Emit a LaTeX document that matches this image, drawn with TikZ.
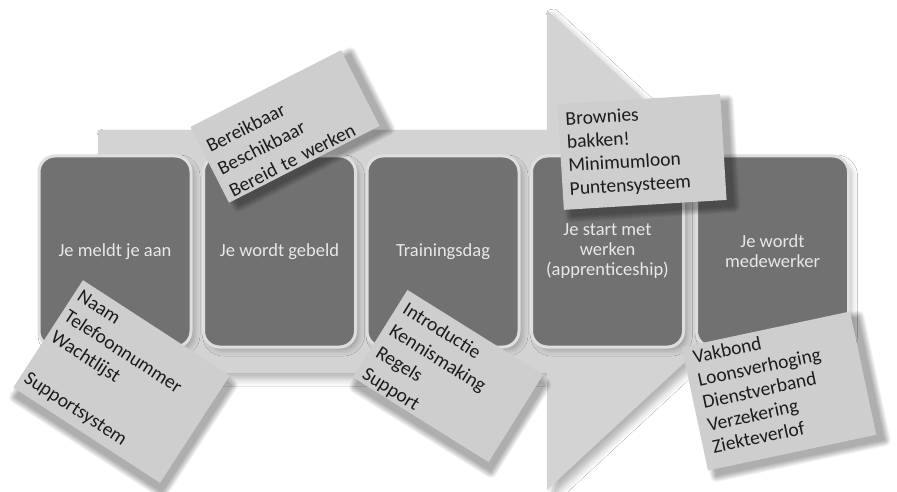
\documentclass[tikz,border=0pt]{standalone}
\usepackage{fontspec}
\setmainfont{Carlito}
\usetikzlibrary{shadows.blur}
\definecolor{arrowfill}{HTML}{D3D3D3}
\definecolor{notefill}{HTML}{CECECE}
\definecolor{boxfill}{HTML}{717171}
\definecolor{boxline}{HTML}{DEDEDE}
\definecolor{boxtext}{HTML}{E8E8E8}
\definecolor{notetextcol}{HTML}{1C1C1C}
\newcommand{\mysoftshadow}[2]{%
  \foreach \k in {0,...,6}{%
    \fill[black, opacity=0.05, rounded corners=\k pt]
      ({-#1+7-\k},{-#2+7-\k}) rectangle ({#1+7+\k},{#2+7+\k});}}
\begin{document}
\begin{tikzpicture}[x=1pt,y=-1pt,
  stagebox/.style={rectangle, rounded corners=16pt, fill=boxfill, draw=boxline, line width=3pt,
    minimum width=152pt, minimum height=191pt, inner sep=4pt, text=boxtext, align=center,
    font=\fontsize{18.5}{20}\selectfont,
    blur shadow={shadow xshift=4pt, shadow yshift=-4pt, shadow blur radius=5pt, shadow opacity=22}},
  notebox/.style={rectangle, fill=notefill, inner sep=0pt, draw=none},
  notetext/.style={anchor=west, inner sep=0pt, align=left, text=notetextcol}
]
\useasboundingbox (0,0) rectangle (897,492);
\fill[white] (0,0) rectangle (897,492);
% big arrow
\fill[arrowfill, blur shadow={shadow xshift=6pt, shadow yshift=-6pt, shadow blur radius=7pt, shadow opacity=30}]
  (98,130) -- (547,130) -- (547,10) -- (806,250) -- (547,490) -- (547,373) -- (98,373) -- cycle;
% stages
\node[stagebox] (s1) at (115,251.5) {Je meldt je aan};
\node[stagebox] (s2) at (279.5,251.5) {Je wordt gebeld};
\node[stagebox] (s3) at (443,251.5) {Trainingsdag};
\node[stagebox] (s4) at (607.5,251.5) {Je start met\\werken\\(apprenticeship)};
\node[stagebox] (s5) at (772.5,251.5) {Je wordt\\medewerker};
% notes
\begin{scope}[shift={(285,126.5)}, rotate=27, transform shape]
  \mysoftshadow{84.5}{42.5}
  \node[notebox, minimum width=169pt, minimum height=85pt] (nA) at (0,0) {};
  \node[notetext, text width=155pt, font=\fontsize{19.5}{25}\selectfont] (nAt) at (-78.5,8) {Bereikbaar\\Beschikbaar\\Bereid te werken};
\end{scope}
\begin{scope}[shift={(121.5,381.5)}, rotate=-33, transform shape]
  \mysoftshadow{87.5}{64}
  \node[notebox, minimum width=175pt, minimum height=128pt] (nB) at (0,0) {};
  \node[notetext, text width=165pt, font=\fontsize{19.5}{24.5}\selectfont] (nBt) at (-83,0) {Naam\\Telefoonnummer\\Wachtlijst\\[24.5pt]Supportsystem};
\end{scope}
\begin{scope}[shift={(448,376)}, rotate=-32, transform shape]
  \mysoftshadow{80}{51.5}
  \node[notebox, minimum width=160pt, minimum height=103pt] (nC) at (0,0) {};
  \node[notetext, text width=150pt, font=\fontsize{19.5}{25.5}\selectfont] (nCt) at (-73,4) {Introductie\\Kennismaking\\Regels\\Support};
\end{scope}
\begin{scope}[shift={(642,152)}, rotate=3.5, transform shape]
  \mysoftshadow{81.5}{53}
  \node[notebox, minimum width=163pt, minimum height=106pt] (nD) at (0,0) {};
  \node[notetext, text width=150pt, font=\fontsize{19.5}{23.3}\selectfont] (nDt) at (-74.5,-1.5) {Brownies\\bakken!\\Minimumloon\\Puntensysteem};
\end{scope}
\begin{scope}[shift={(779,391)}, rotate=12, transform shape]
  \mysoftshadow{86}{63}
  \node[notebox, minimum width=172pt, minimum height=126pt] (nE) at (0,0) {};
  \node[notetext, text width=160pt, font=\fontsize{19.5}{23}\selectfont] (nEt) at (-77,-5) {Vakbond\\Loonsverhoging\\Dienstverband\\Verzekering\\Ziekteverlof};
\end{scope}
\end{tikzpicture}
\end{document}
